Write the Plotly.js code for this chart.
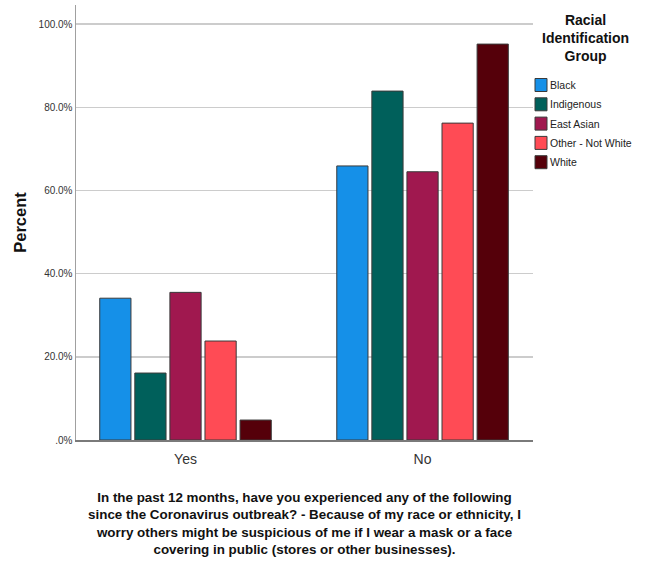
<!DOCTYPE html>
<html>
<head>
<meta charset="utf-8">
<script src="https://cdn.plot.ly/plotly-3.0.1.min.js"></script>
<style>
  html, body { margin: 0; padding: 0; background: #fff; }
  #chart { width: 646px; height: 564px; }
</style>
</head>
<body>
<div id="chart"></div>
<script>
// ---- data ----
const categories = ['Yes', 'No'];
const groups = ['Black', 'Indigenous', 'East Asian', 'Other - Not White', 'White'];
const black = [34.1, 65.9];
const indigenous = [16.1, 83.9];
const eastAsian = [35.5, 64.5];
const otherNotWhite = [23.8, 76.2];
const white = [4.8, 95.2];
const yTickVals = [0, 20, 40, 60, 80, 100];
const yTickText = ['.0%', '20.0%', '40.0%', '60.0%', '80.0%', '100.0%'];

// ---- styling ----
const colors = ['#1590E8', '#00605B', '#A0184F', '#FF4B55', '#55000A'];
const seriesValues = [black, indigenous, eastAsian, otherNotWhite, white];
const FONT = '"Liberation Sans", Arial, sans-serif';

const W = 646, H = 564;
const M = { l: 76, r: 113, t: 5, b: 124 };
const plotW = W - M.l - M.r, plotH = H - M.t - M.b;
const px2x = p => (p - M.l) / plotW;
const px2y = p => (H - M.b - p) / plotH;

const traces = groups.map((g, i) => ({
  type: 'bar',
  name: g,
  x: categories,
  y: seriesValues[i],
  marker: { color: colors[i], line: { color: '#3a3a3a', width: 1 } },
  showlegend: false,
  hoverinfo: 'x+y+name'
}));

// manual legend (swatch + label), positioned next to plot
const shapes = [];
const annotations = [];
const legTop = 85, legStep = 19.3;
groups.forEach((g, i) => {
  const cy = legTop + i * legStep;
  shapes.push({
    type: 'rect', xref: 'paper', yref: 'paper',
    x0: px2x(535), x1: px2x(547), y0: px2y(cy + 6.5), y1: px2y(cy - 6.5),
    fillcolor: colors[i], line: { color: '#3a3a3a', width: 1 }
  });
  annotations.push({
    xref: 'paper', yref: 'paper', x: px2x(548), y: px2y(cy),
    xanchor: 'left', yanchor: 'middle', showarrow: false,
    text: g, font: { family: FONT, size: 10.5, color: '#222' }
  });
});
annotations.push({
  xref: 'paper', yref: 'paper', x: px2x(585), y: px2y(10),
  xanchor: 'center', yanchor: 'top', showarrow: false, align: 'center',
  text: '<b>Racial</b><br><b>Identification</b><br><b>Group</b>',
  font: { family: FONT, size: 14, color: '#111' }
});

const layout = {
  width: W, height: H,
  margin: M,
  paper_bgcolor: '#fff', plot_bgcolor: '#fff',
  font: { family: FONT, color: '#222' },
  barmode: 'group',
  bargap: 0.26,
  bargroupgap: 0.11,
  xaxis: {
    type: 'category',
    range: [-0.462, 1.466],
    showline: true, linecolor: '#7a7a7a', linewidth: 1.5,
    ticks: '', showgrid: false, zeroline: false,
    ticklabelstandoff: 6,
    tickfont: { family: FONT, size: 14, color: '#333' },
    title: {
      text: '<b>In the past 12 months, have you experienced any of the following</b><br><b>since the Coronavirus outbreak? - Because of my race or ethnicity, I</b><br><b>worry others might be suspicious of me if I wear a mask or a face</b><br><b>covering in public (stores or other businesses).</b>',
      font: { family: FONT, size: 13.4, color: '#111' },
      standoff: 26
    },
    automargin: false,
    fixedrange: true
  },
  yaxis: {
    range: [0, 104.6],
    tickvals: yTickVals, ticktext: yTickText,
    showline: true, linecolor: '#a0a0a0', linewidth: 1.5,
    showgrid: true, gridcolor: '#cccccc', gridwidth: 1.5,
    zeroline: false, ticks: '',
    tickfont: { family: FONT, size: 10, color: '#333' },
    title: { text: '<b>Percent</b>', font: { family: FONT, size: 16.5, color: '#111' }, standoff: 8 },
    automargin: false,
    fixedrange: true
  },
  shapes: shapes,
  annotations: annotations
};

Plotly.newPlot('chart', traces, layout, { displayModeBar: false, staticPlot: true });
</script>
</body>
</html>
